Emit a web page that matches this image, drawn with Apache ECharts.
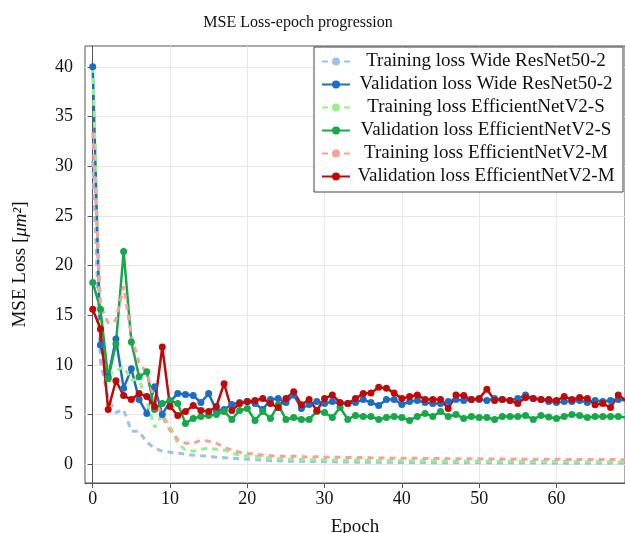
<!doctype html>
<html>
    <head>
        <meta charset="utf-8">
        <style>
            html, body { margin: 0; padding: 0; background: #fff; }
            #main { width: 625px; height: 533px; }
        </style>
    </head>
    <body>
        <div id="main"></div>
        <script src="https://cdn.jsdelivr.net/npm/echarts@6/dist/echarts.min.js"></script>
        <script>
            var xTicks = [0, 10, 20, 30, 40, 50, 60];
            var yTicks = [0, 5, 10, 15, 20, 25, 30, 35, 40];

            var trainRes = [30.5, 10.3, 6.6, 5.2, 5.5, 3.3, 3.3, 2.2, 1.6, 1.3,
                1.2, 1.1, 1.0, 0.9, 0.85, 0.8, 0.7, 0.65, 0.6, 0.55,
                0.5, 0.45, 0.4, 0.35, 0.35, 0.3, 0.3, 0.28, 0.27, 0.25,
                0.25, 0.24, 0.22, 0.22, 0.2, 0.2, 0.2, 0.19, 0.18, 0.18,
                0.17, 0.17, 0.16, 0.16, 0.15, 0.15, 0.15, 0.14, 0.14, 0.13,
                0.13, 0.13, 0.12, 0.12, 0.12, 0.12, 0.11, 0.11, 0.11, 0.1,
                0.1, 0.1, 0.1, 0.1, 0.1, 0.09, 0.09, 0.09, 0.09, 0.09];
            var valRes = [40, 12.0, 8.8, 12.6, 7.65, 9.6, 6.5, 5.1, 7.8, 5.0,
                6.3, 7.1, 7.0, 6.9, 6.2, 7.1, 5.4, 5.5, 6.0, 6.2,
                6.3, 6.1, 5.5, 6.5, 6.6, 6.2, 6.97, 5.6, 6.0, 6.3,
                6.1, 6.3, 6.1, 6.1, 6.2, 6.5, 6.2, 5.9, 6.5, 6.5,
                6.0, 6.3, 6.4, 6.2, 6.1, 6.1, 6.3, 6.5, 6.4, 6.5,
                6.5, 6.4, 6.6, 6.5, 6.4, 6.6, 6.97, 6.6, 6.5, 6.3,
                6.2, 6.3, 6.3, 6.4, 6.2, 6.4, 6.3, 6.4, 6.5, 6.4];
            var trainEffS = [40, 13.9, 9.0, 9.4, 9.8, 8.5, 8.5, 6.3, 3.7, 5.0,
                3.8, 2.1, 1.4, 1.3, 1.5, 1.6, 1.5, 1.4, 1.1, 0.9,
                0.8, 0.8, 0.7, 0.6, 0.55, 0.5, 0.48, 0.47, 0.45, 0.45,
                0.43, 0.42, 0.42, 0.4, 0.4, 0.38, 0.38, 0.37, 0.36, 0.36,
                0.35, 0.35, 0.34, 0.33, 0.33, 0.32, 0.32, 0.31, 0.31, 0.3,
                0.3, 0.3, 0.29, 0.29, 0.28, 0.28, 0.28, 0.27, 0.27, 0.27,
                0.26, 0.26, 0.26, 0.25, 0.25, 0.25, 0.25, 0.24, 0.24, 0.24];
            var valEffS = [18.3, 15.6, 8.6, 12.1, 21.4, 12.3, 8.8, 9.3, 5.5, 6.1,
                6.4, 6.1, 4.1, 4.6, 4.8, 4.9, 5.0, 5.3, 4.5, 5.4,
                5.6, 4.4, 5.3, 4.6, 5.97, 4.5, 4.7, 4.5, 4.5, 5.3,
                5.2, 4.7, 5.7, 4.5, 4.9, 4.8, 4.8, 4.5, 4.7, 4.8,
                4.7, 4.4, 4.8, 5.1, 4.8, 5.3, 4.8, 5.0, 4.6, 4.8,
                4.7, 4.7, 4.5, 4.8, 4.8, 4.8, 4.9, 4.5, 4.9, 4.75,
                4.6, 4.8, 5.0, 4.9, 4.7, 4.8, 4.8, 4.8, 4.8, 4.7];
            var trainEffM = [33.4, 16.0, 14.2, 14.5, 17.9, 12.9, 10.2, 9.2, 6.5, 4.8,
                3.4, 2.5, 2.1, 2.1, 2.4, 2.3, 2.1, 1.7, 1.4, 1.2,
                1.1, 1.0, 0.9, 0.85, 0.8, 0.78, 0.8, 0.75, 0.72, 0.74,
                0.7, 0.68, 0.7, 0.66, 0.65, 0.66, 0.63, 0.62, 0.63, 0.6,
                0.6, 0.58, 0.59, 0.57, 0.56, 0.57, 0.55, 0.55, 0.54, 0.53,
                0.54, 0.52, 0.52, 0.51, 0.5, 0.51, 0.5, 0.49, 0.49, 0.48,
                0.48, 0.48, 0.47, 0.47, 0.47, 0.46, 0.46, 0.46, 0.45, 0.45];
            var valEffM = [15.6, 13.6, 5.5, 8.4, 6.9, 6.5, 7.1, 6.8, 5.8, 11.8,
                5.8, 4.9, 5.3, 5.9, 5.4, 5.3, 5.8, 8.1, 5.4, 6.1,
                6.3, 6.4, 6.6, 6.1, 5.7, 6.6, 7.3, 5.97, 6.5, 5.4,
                6.6, 6.97, 6.2, 6.1, 6.6, 7.1, 7.15, 7.75, 7.65, 7.15,
                6.6, 6.8, 6.97, 6.5, 6.5, 6.5, 5.6, 6.97, 6.9, 6.5,
                6.6, 7.55, 6.4, 6.5, 6.4, 6.1, 6.7, 6.6, 6.5, 6.5,
                6.4, 6.8, 6.5, 6.7, 6.6, 5.97, 6.1, 5.7, 6.97, 6.4];

            var names = [
                'Training loss Wide ResNet50-2',
                'Validation loss Wide ResNet50-2',
                'Training loss EfficientNetV2-S',
                'Validation loss EfficientNetV2-S',
                'Training loss EfficientNetV2-M',
                'Validation loss EfficientNetV2-M'
            ];
            var colors = ['#9cc3e6', '#1b6ec2', '#98f08c', '#16a84a', '#f5a29c', '#c00a0a'];
            var values = [trainRes, valRes, trainEffS, valEffS, trainEffM, valEffM];

            function pairs(arr) {
                return arr.map(function (v, i) { return [i, v]; });
            }

            var FONT = '"Liberation Serif", "DejaVu Serif", serif';

            var series = values.map(function (arr, k) {
                var isTrain = k % 2 === 0;
                return {
                    name: names[k],
                    type: 'line',
                    data: pairs(arr),
                    color: colors[k],
                    showSymbol: !isTrain,
                    symbol: isTrain ? 'none' : 'circle',
                    symbolSize: 7,
                    lineStyle: isTrain
                        ? { width: 3, type: [6, 5], color: colors[k] }
                        : { width: 2.5, color: colors[k] },
                    itemStyle: { color: colors[k] },
                    animation: false
                };
            });

            var chart = echarts.init(document.getElementById('main'));

            chart.setOption({
                title: {
                    text: 'MSE Loss-epoch progression',
                    left: 293,
                    textAlign: 'center',
                    top: 10,
                    textStyle: { fontFamily: FONT, fontSize: 16, fontWeight: 'normal', color: '#111' }
                },
                grid: {
                    left: 85,
                    top: 46,
                    right: 0,
                    bottom: 50,
                    outerBoundsMode: 'none',
                    containLabel: false,
                    show: true,
                    borderColor: '#555',
                    borderWidth: 1
                },
                legend: {
                    orient: 'vertical',
                    right: 2,
                    top: 47,
                    itemWidth: 28,
                    itemHeight: 10,
                    itemGap: 4,
                    padding: [5, 6, 6, 7],
                    backgroundColor: '#fff',
                    borderColor: '#444',
                    borderWidth: 1,
                    borderRadius: 0,
                    formatter: function (name) { return '{c|' + name + '}'; },
                    textStyle: {
                        fontFamily: FONT, fontSize: 19, color: '#111', lineHeight: 19,
                        rich: { c: { fontFamily: FONT, fontSize: 19, color: '#111', width: 262, align: 'center' } }
                    },
                    data: names
                },
                xAxis: {
                    type: 'value',
                    min: -1,
                    max: 68.87,
                    name: 'Epoch',
                    nameLocation: 'middle',
                    nameGap: 35,
                    nameTextStyle: { fontFamily: FONT, fontSize: 19, color: '#111' },
                    axisLine: { onZero: false, lineStyle: { color: '#555' } },
                    axisTick: { show: true, length: 5, customValues: xTicks, lineStyle: { color: '#555' } },
                    axisLabel: { customValues: xTicks, fontFamily: FONT, fontSize: 18, color: '#111', margin: 7 },
                    splitLine: { show: true, lineStyle: { color: '#e6e6e6', width: 1 } }
                },
                yAxis: {
                    type: 'value',
                    min: -1.9,
                    max: 42.1,
                    name: 'MSE Loss [{i|μm²}]',
                    nameLocation: 'middle',
                    nameGap: 55,
                    nameRotate: 90,
                    nameTextStyle: {
                        fontFamily: FONT, fontSize: 19, color: '#111',
                        rich: { i: { fontFamily: FONT, fontSize: 19, fontStyle: 'italic', color: '#111' } }
                    },
                    axisLine: { show: true, lineStyle: { color: '#555' } },
                    axisTick: { show: true, length: 5, customValues: yTicks, lineStyle: { color: '#555' } },
                    axisLabel: { customValues: yTicks, fontFamily: FONT, fontSize: 18, color: '#111', margin: 12 },
                    splitLine: { show: true, lineStyle: { color: '#e6e6e6', width: 1 } }
                },
                series: series
            });

            window.onresize = chart.resize;
        </script>
    </body>
</html>
